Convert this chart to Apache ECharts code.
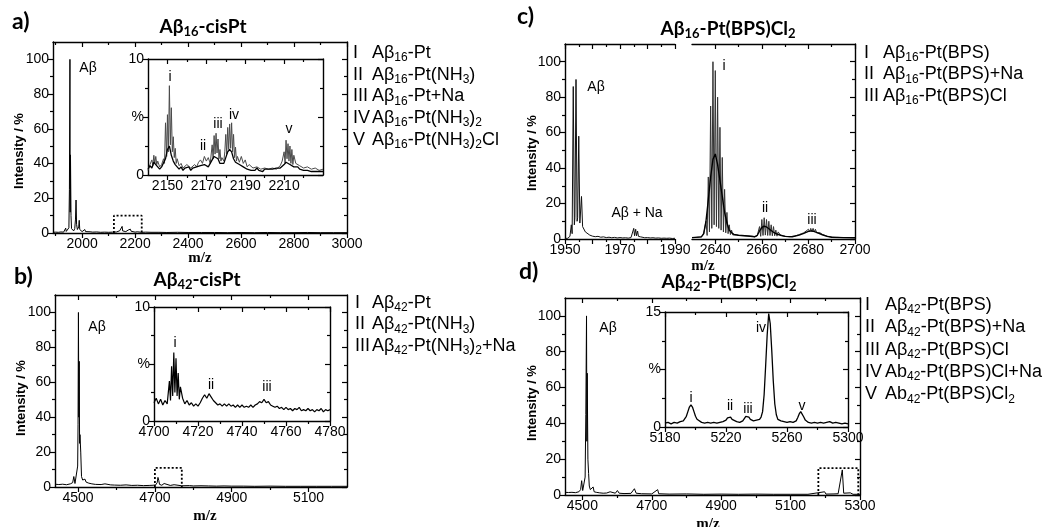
<!DOCTYPE html>
<html><head><meta charset="utf-8">
<script src="https://cdn.jsdelivr.net/npm/echarts@6/dist/echarts.min.js"></script>
<style>html,body{margin:0;padding:0;background:#fff}#c{width:1055px;height:527px}</style>
</head><body><div id="c"></div>
<script>
// ---------------- DATA ----------------
// Panel a: Aβ16-cisPt  (m/z, intensity %)
const aSpec = [[1890,0.4],[1900,0.5],[1910,0.4],[1920,0.6],[1930,0.5],[1936,0.8],[1938,2.8],[1940,0.9],[1945,1.2],[1950,3],[1952,25],[1954,100],[1955,12],[1956,45],[1958,10],[1960,2.5],[1964,1.5],[1968,1.2],[1972,2.5],[1975,8],[1977,19],[1979,5],[1982,2],[1985,1.8],[1987,3.5],[1989,7.3],[1991,2],[1995,1.0],[2000,0.8],[2005,1.0],[2010,2.0],[2013,0.8],[2020,0.6],[2030,0.7],[2040,0.5],[2055,0.6],[2070,0.4],[2085,0.5],[2100,0.4],[2115,0.5],[2130,0.6],[2142,1.3],[2146,0.7],[2149,2.0],[2151,3.8],[2153,1.2],[2158,0.6],[2165,0.8],[2170,0.7],[2174,1.7],[2177,0.9],[2182,2.2],[2185,1.0],[2190,0.7],[2200,0.5],[2208,0.7],[2211,1.6],[2215,0.6],[2225,0.4],[2240,0.5],[2260,0.4],[2290,0.4],[2320,0.3],[2360,0.4],[2400,0.3],[2450,0.3],[2500,0.3],[2550,0.2],[2600,0.3],[2650,0.2],[2700,0.3],[2750,0.2],[2800,0.2],[2850,0.3],[2900,0.2],[2950,0.2],[3000,0.2]];
const aInsetGray = [[2140,0.4],[2141,0.9],[2142,1.3],[2142.5,0.8],[2143,1.7],[2143.5,1.0],[2144,1.6],[2144.5,0.9],[2145,1.2],[2146,0.7],[2147,0.9],[2148,1.4],[2148.5,1.0],[2149,4.5],[2149.6,1.6],[2150,5.2],[2150.5,2.0],[2151,7.7],[2151.5,2.6],[2152,5.8],[2152.5,2.0],[2153,3.3],[2153.5,1.5],[2154,2.3],[2154.5,1.0],[2155,1.4],[2156,0.8],[2157,1.0],[2158,0.6],[2160,0.9],[2162,0.6],[2164,0.9],[2165,0.7],[2166,1.1],[2167,1.3],[2168,1.0],[2169,1.6],[2170,1.2],[2171,1.5],[2172,1.0],[2173,2.6],[2173.5,1.4],[2174,3.4],[2174.5,1.8],[2175,3.6],[2175.5,1.9],[2176,3.1],[2176.5,1.4],[2177,2.2],[2177.5,1.2],[2178,1.5],[2179,1.2],[2179.5,2.0],[2180,3.5],[2180.5,1.8],[2181,4.1],[2181.5,2.2],[2182,4.4],[2182.5,2.3],[2183,4.5],[2183.5,2.0],[2184,3.5],[2184.5,1.5],[2185,2.4],[2185.5,1.2],[2186,1.6],[2187,1.1],[2188,1.6],[2189,1.0],[2190,1.3],[2191,0.7],[2192,0.9],[2194,0.6],[2196,0.7],[2198,0.5],[2200,0.6],[2202,0.5],[2204,0.6],[2206,0.5],[2208,0.8],[2209,1.2],[2210,2.0],[2210.5,1.0],[2211,3.0],[2211.5,1.4],[2212,2.7],[2212.5,1.2],[2213,2.5],[2213.5,1.0],[2214,2.2],[2214.5,0.9],[2215,1.7],[2216,1.0],[2217,1.1],[2218,0.8],[2219,0.9],[2220,0.6],[2222,0.7],[2224,0.5],[2226,0.6],[2228,0.4],[2230,0.5]];
const aInsetBlack = [[2140,0.5],[2141,0.8],[2142,0.6],[2143,1.1],[2144,0.9],[2145,1.0],[2146,0.5],[2147,0.7],[2148,0.6],[2149,1.4],[2150,2.2],[2151,2.5],[2152,1.7],[2153,1.2],[2154,0.9],[2155,1.0],[2156,0.5],[2157,0.7],[2158,0.4],[2159,0.6],[2160,0.5],[2161,0.7],[2162,0.4],[2163,0.6],[2164,0.5],[2165,0.7],[2166,0.6],[2167,0.8],[2168,0.7],[2169,0.9],[2170,0.8],[2171,0.7],[2172,1.0],[2173,1.3],[2174,1.6],[2175,1.7],[2176,1.4],[2177,1.0],[2178,0.9],[2179,1.0],[2180,1.5],[2181,2.0],[2182,2.2],[2183,2.0],[2184,1.4],[2185,1.1],[2186,1.2],[2187,0.9],[2188,1.0],[2189,0.7],[2190,0.8],[2191,0.5],[2192,0.6],[2193,0.4],[2194,0.5],[2195,0.4],[2196,0.6],[2197,0.4],[2198,0.5],[2199,0.3],[2200,0.5],[2201,0.4],[2202,0.5],[2203,0.4],[2204,0.5],[2205,0.4],[2206,0.6],[2207,0.5],[2208,0.6],[2209,0.7],[2210,0.9],[2211,1.1],[2212,1.0],[2213,0.9],[2214,0.8],[2215,0.7],[2216,0.6],[2217,0.7],[2218,0.5],[2219,0.6],[2220,0.4],[2221,0.5],[2222,0.4],[2223,0.5],[2224,0.3],[2225,0.4],[2226,0.3],[2227,0.4],[2228,0.3],[2229,0.4],[2230,0.3]];
const aZoomBox = [2120, 2225, 0, 10];

// Panel b: Aβ42-cisPt
const bSpec = [[4440,1.6],[4450,1.4],[4460,1.6],[4470,1.3],[4480,1.8],[4486,2.5],[4489,6],[4492,2],[4496,2.5],[4499,12],[4500,36],[4501,100],[4502,40],[4503,72],[4504,25],[4505,30],[4507,20],[4509,6],[4512,4],[4515,3.5],[4518,4.5],[4521,2.8],[4525,3.5],[4528,2.2],[4532,2.6],[4536,1.8],[4540,2.0],[4545,1.5],[4550,1.7],[4560,1.4],[4570,1.8],[4575,1.3],[4585,1.2],[4590,2.0],[4595,1.1],[4610,1.0],[4625,1.2],[4640,0.9],[4655,1.0],[4670,0.8],[4685,0.9],[4695,1.0],[4702,1.2],[4706,2.5],[4708,5.5],[4710,3.8],[4712,1.5],[4718,1.0],[4724,2.0],[4728,1.0],[4740,0.9],[4750,1.3],[4755,0.8],[4770,0.7],[4790,0.8],[4800,0.6],[4820,0.7],[4840,0.6],[4860,0.5],[4880,0.6],[4900,0.5],[4930,0.5],[4960,0.4],[5000,0.5],[5040,0.4],[5080,0.4],[5120,0.4],[5160,0.4],[5200,0.4]];
const bInset = [[4700,1.6],[4701,2.0],[4702,1.5],[4703,1.9],[4704,1.4],[4705,1.8],[4706,1.5],[4707,3.5],[4707.5,1.8],[4708,4.8],[4708.5,2.2],[4709,6.0],[4709.5,2.5],[4710,5.5],[4710.5,2.2],[4711,4.2],[4711.5,1.9],[4712,3.0],[4713,2.0],[4714,1.5],[4715,1.8],[4716,1.4],[4717,1.6],[4718,1.3],[4719,1.5],[4720,1.3],[4721,1.6],[4722,2.0],[4723,2.3],[4724,2.0],[4725,2.4],[4726,2.1],[4727,1.8],[4728,1.6],[4729,1.4],[4730,1.5],[4731,1.3],[4732,1.5],[4733,1.3],[4734,1.5],[4735,1.3],[4736,1.4],[4737,1.2],[4738,1.4],[4739,1.2],[4740,1.4],[4741,1.2],[4742,1.3],[4743,1.2],[4744,1.4],[4745,1.2],[4746,1.4],[4747,1.5],[4748,1.7],[4749,1.6],[4750,1.9],[4751,1.6],[4752,1.7],[4753,1.4],[4754,1.3],[4755,1.2],[4756,1.3],[4757,1.1],[4758,1.2],[4759,1.0],[4760,1.2],[4761,1.0],[4762,1.1],[4763,0.9],[4764,1.1],[4765,1.0],[4766,1.2],[4767,0.9],[4768,1.0],[4769,0.9],[4770,1.1],[4771,0.9],[4772,1.0],[4773,0.8],[4774,1.0],[4775,0.9],[4776,1.1],[4777,0.8],[4778,1.0],[4779,0.9],[4780,1.0]];
const bZoomBox = [4700, 4770, 0, 11];

// Panel c: Aβ16-Pt(BPS)Cl2 (broken axis)
const cLeftSpec = [[1950,0.3],[1951,0.4],[1951.8,1.5],[1952.3,8],[1952.6,3],[1953,86],[1953.4,8],[1953.6,12],[1954,90],[1954.4,10],[1954.6,12],[1955,58],[1955.4,9],[1955.6,10],[1956,24],[1956.4,7],[1956.6,6],[1957,8],[1957.4,4],[1957.7,3.5],[1958,3],[1959,2.2],[1960,1.6],[1961,1.3],[1962,1.5],[1963,1.0],[1964,1.2],[1965,0.8],[1966,1.0],[1967,0.7],[1968,0.9],[1969,0.6],[1970,0.8],[1971,0.6],[1972,0.7],[1973,0.5],[1974,0.8],[1974.6,1.5],[1975,6],[1975.3,1.8],[1975.7,5.5],[1976,1.8],[1976.4,4.5],[1976.7,1.5],[1977,2.5],[1977.5,1.2],[1978,1.1],[1979,0.7],[1980,0.8],[1981,0.6],[1982,0.7],[1983,0.5],[1984,0.6],[1985,0.4],[1986,0.5],[1987,0.4],[1988,0.5],[1989,0.3],[1990,0.4]];
const cRightSpec = [[2630,0.8],[2632,0.9],[2634,1.2],[2635,2.5],[2635.5,1.5],[2636,10],[2636.5,2],[2637,35],[2637.5,4],[2638,75],[2638.5,6],[2639,100],[2639.5,8],[2640,95],[2640.5,7],[2641,80],[2641.5,6],[2642,63],[2642.5,5],[2643,46],[2643.5,4],[2644,28],[2644.5,3.5],[2645,15],[2645.5,3],[2646,8],[2646.5,2.5],[2647,5],[2647.5,2.3],[2648,3],[2649,2.2],[2650,2.0],[2652,1.9],[2654,1.7],[2656,1.5],[2657,1.2],[2658,1.8],[2658.5,1.2],[2659,7],[2659.5,1.5],[2660,11],[2660.5,2],[2661,12],[2661.5,2.2],[2662,11],[2662.5,2],[2663,10],[2663.5,2],[2664,8],[2664.5,1.8],[2665,7],[2665.5,1.8],[2666,5],[2666.5,1.6],[2667,4],[2668,2.2],[2669,1.8],[2670,1.5],[2672,1.3],[2674,1.6],[2676,2.5],[2677,3],[2678,3.5],[2679,4.5],[2679.5,3.5],[2680,5.5],[2680.5,4],[2681,6],[2681.5,4.2],[2682,6],[2682.5,4],[2683,5.5],[2683.5,3.5],[2684,4.5],[2685,3.5],[2686,2.5],[2688,1.6],[2690,1.1],[2692,0.9],[2695,0.8],[2698,0.8],[2700,0.7]];
const cRightEnv = [[2630,0.8],[2634,1.2],[2635,3],[2636,10],[2637,22],[2638,35],[2639,45],[2640,48],[2641,42],[2642,33],[2643,24],[2644,15],[2645,9],[2646,5],[2647,3.5],[2648,2.6],[2650,2.1],[2654,1.7],[2657,1.3],[2658,2],[2659,4.5],[2660,6.5],[2661,7.2],[2662,6.8],[2663,5.8],[2664,4.8],[2665,3.8],[2666,3],[2668,2.1],[2670,1.5],[2673,1.3],[2676,2.2],[2678,3.2],[2680,4.3],[2681,4.6],[2682,4.4],[2684,3.5],[2686,2.4],[2688,1.5],[2690,1.0],[2695,0.8],[2700,0.7]];

// Panel d: Aβ42-Pt(BPS)Cl2
const dSpec = [[4450,1.5],[4460,1.4],[4470,1.5],[4480,1.3],[4490,1.8],[4495,3],[4498,8],[4501,2.5],[4505,3],[4508,10],[4510,45],[4512,100],[4513,30],[4514,68],[4516,20],[4518,12],[4520,5],[4523,3],[4527,2.5],[4531,4.5],[4534,1.8],[4540,1.5],[4550,1.2],[4560,1.0],[4570,1.1],[4580,1.8],[4585,0.9],[4595,1.0],[4601,2.5],[4606,1.0],[4620,0.8],[4640,0.9],[4650,3.5],[4655,1.0],[4670,0.7],[4700,0.6],[4717,3],[4720,0.7],[4750,0.5],[4800,0.6],[4850,0.4],[4900,0.5],[4950,0.4],[5000,0.5],[5050,0.4],[5100,0.4],[5150,0.4],[5198,1.8],[5202,0.5],[5225,0.6],[5237,0.7],[5249,14],[5253,1.0],[5272,1.2],[5280,0.4],[5300,0.4]];
const dInset = [[5180,0.5],[5182,0.6],[5184,0.4],[5186,0.6],[5188,0.5],[5190,0.7],[5192,0.8],[5193,1.0],[5194,1.4],[5195,2.0],[5196,2.6],[5197,2.9],[5198,2.6],[5199,2.0],[5200,1.4],[5201,1.0],[5202,0.8],[5204,0.6],[5206,0.5],[5208,0.6],[5210,0.5],[5212,0.6],[5214,0.5],[5216,0.6],[5218,0.7],[5220,0.9],[5221,1.2],[5222,1.4],[5223,1.3],[5224,1.0],[5225,0.9],[5227,0.7],[5229,0.6],[5231,0.8],[5232,1.1],[5233,1.4],[5234,1.5],[5235,1.3],[5236,1.0],[5238,0.8],[5240,0.9],[5242,1.0],[5243,1.3],[5244,2.0],[5245,4.2],[5246,8.0],[5247,12.0],[5248,14.8],[5249,13.5],[5250,10.0],[5251,6.0],[5252,3.0],[5253,1.6],[5254,1.0],[5256,0.8],[5258,0.7],[5260,0.6],[5262,0.7],[5264,0.6],[5266,0.8],[5267,1.2],[5268,1.7],[5269,2.0],[5270,1.8],[5271,1.3],[5272,0.9],[5274,0.6],[5276,0.5],[5278,0.6],[5280,0.5],[5282,0.6],[5284,0.5],[5286,0.6],[5288,0.7],[5290,0.5],[5292,0.6],[5294,0.5],[5296,0.4],[5298,0.5],[5300,0.4]];
const dZoomBox = [5180, 5295, 0, 15];

// Tick labels
const mainYTicks = [0,20,40,60,80,100];
const mainYMinor = [10,30,50,70,90];
const aXTicks = [2000,2200,2400,2600,2800,3000];
const aXMinor = [1900,2100,2300,2500,2700,2900];
const aInXTicks = [2150,2170,2190,2210];
const aInXMinor = [2160,2180,2200,2220];
const insetYTicks = [0,5,10];
const insetYMinor = [2.5,7.5];
const bXTicks = [4500,4700,4900,5100];
const bXMinor = [4600,4800,5000];
const bInXTicks = [4700,4720,4740,4760,4780];
const bInXMinor = [4710,4730,4750,4770];
const cLXTicks = [1950,1970,1990];
const cLXMajor = [1950,1960,1970,1980,1990];
const cLXMinor = [1955,1965,1975,1985];
const cRXTicks = [2640,2660,2680,2700];
const cRXMinor = [2650,2670,2690];
const dXTicks = [4500,4700,4900,5100,5300];
const dXMinor = [4600,4800,5000,5200];
const dInXTicks = [5180,5220,5260,5300];
const dInXMinor = [5200,5240,5280];
const dInYTicks = [0,7.5,15];
const dInYMinor = [3.75,11.25];

// Texts
const numerals = ['I','II','III','IV','V'];
const legendA = ['Aβ_{16}-Pt','Aβ_{16}-Pt(NH_{3})','Aβ_{16}-Pt+Na','Aβ_{16}-Pt(NH_{3})_{2}','Aβ_{16}-Pt(NH_{3})_{2}Cl'];
const legendB = ['Aβ_{42}-Pt','Aβ_{42}-Pt(NH_{3})','Aβ_{42}-Pt(NH_{3})_{2}+Na'];
const legendC = ['Aβ_{16}-Pt(BPS)','Aβ_{16}-Pt(BPS)+Na','Aβ_{16}-Pt(BPS)Cl'];
const legendD = ['Aβ_{42}-Pt(BPS)','Aβ_{42}-Pt(BPS)+Na','Aβ_{42}-Pt(BPS)Cl','Ab_{42}-Pt(BPS)Cl+Na','Ab_{42}-Pt(BPS)Cl_{2}'];
const titles = ['Aβ_{16}-cisPt','Aβ_{42}-cisPt','Aβ_{16}-Pt(BPS)Cl_{2}','Aβ_{42}-Pt(BPS)Cl_{2}'];
const panelLetters = ['a)','b)','c)','d)'];
const annA = [['Aβ',88,68],['i',170,77],['ii',203,146],['iii',218,124],['iv',234,115],['v',289,129]];
const annB = [['Aβ',97,327],['i',175,343],['ii',211,385],['iii',267,387]];
const annC = [['Aβ',596,87],['Aβ + Na',637,213],['i',724,66],['ii',765,208],['iii',812,220]];
const annD = [['Aβ',608,328],['i',691,398],['ii',730,406],['iii',748,409],['iv',761,328],['v',802,406]];

// ---------------- BUILD ----------------
const FF = "'Liberation Sans', Arial, sans-serif";
const TF = "Lato, 'Open Sans', sans-serif";
const grids = [], xAxes = [], yAxes = [], series = [], graphic = [];
const NONE = {show:false};

function addPanel(p) {
  const gi = grids.length;
  grids.push({left:p.box[0], top:p.box[1], width:p.box[2], height:p.box[3]});
  const L = {show:true, onZero:false, lineStyle:{color:'#000', width:1.4}};
  const T = (vals, len, inside) => vals && vals.length ? {show:true, customValues:vals, length:len, inside:inside, lineStyle:{color:'#000', width:1.2}} : NONE;
  const lab = (vals, fmt) => ({show:true, customValues:vals, color:'#000', fontSize:14, fontFamily:FF, margin:4, formatter: fmt || (v => String(v))});
  const X = (pos, line, tick, label) => ({type:'value', gridIndex:gi, min:p.x[0], max:p.x[1], position:pos, axisLine:line, axisTick:tick, axisLabel:label, splitLine:NONE, minorTick:NONE});
  const Y = (pos, line, tick, label) => ({type:'value', gridIndex:gi, min:p.y[0], max:p.y[1], position:pos, axisLine:line, axisTick:tick, axisLabel:label, splitLine:NONE, minorTick:NONE});
  const xi = xAxes.length, yi = yAxes.length;
  xAxes.push(X('bottom', L, T(p.xMaj,5,false), lab(p.xLab)));
  xAxes.push(X('bottom', {show:false,onZero:false}, T(p.xMin,3,false), NONE));
  xAxes.push(X('top', L, T(p.xMaj,5,true), NONE));
  xAxes.push(X('top', {show:false,onZero:false}, T(p.xMin,3,true), NONE));
  const left = p.left !== false, right = p.right !== false;
  yAxes.push(Y('left', left ? L : {show:false,onZero:false}, left ? T(p.yMaj,5,false) : NONE, left ? lab(p.yLab, p.yFmt) : NONE));
  yAxes.push(Y('left', {show:false,onZero:false}, left ? T(p.yMin,3,false) : NONE, NONE));
  yAxes.push(Y('right', right ? L : {show:false,onZero:false}, right ? T(p.yMaj,5,true) : NONE, NONE));
  yAxes.push(Y('right', {show:false,onZero:false}, right ? T(p.yMin,3,true) : NONE, NONE));
  return {xi, yi};
}
function addLine(ax, data, color, width, type) {
  series.push({type:'line', xAxisIndex:ax.xi, yAxisIndex:ax.yi, data:data, showSymbol:false, symbol:'none',
    lineStyle:{color:color, width:width, type:type||'solid'}, animation:false, silent:true, clip:true, z:3});
}
function boxData(b) { return [[b[0],b[2]],[b[0],b[3]],[b[1],b[3]],[b[1],b[2]]]; }

function chem(s, size, family, weight) {
  const str = '{t|' + s.replace(/_\{([^}]*)\}/g, '}{s|$1}{t|') + '}';
  const ss = Math.round(size*0.66);
  return {text:str, rich:{
    t:{fontSize:size, fontFamily:family, fontWeight:weight, fill:'#000', color:'#000', lineHeight:size+4, verticalAlign:'middle'},
    s:{fontSize:ss, fontFamily:family, fontWeight:weight, fill:'#000', color:'#000', lineHeight:ss, verticalAlign:'bottom'}
  }};
}
function gText(x, y, text, size, family, weight, align, rot) {
  graphic.push({type:'text', x:x, y:y, rotation:rot||0, z:100, silent:true,
    style:{text:text, fontSize:size, fontFamily:family, fontWeight:weight||'normal', fill:'#000', textAlign:align||'center', textVerticalAlign:'middle', verticalAlign:'middle'}});
}
function gRich(x, y, s, size, family, weight, align) {
  const r = chem(s, size, family, weight);
  graphic.push({type:'text', x:x, y:y, z:100, silent:true,
    style:{text:r.text, rich:r.rich, fill:'#000', font: weight+' '+size+'px '+family, textAlign:align, textVerticalAlign:'middle', verticalAlign:'middle'}});
}

// Panel a
const pa = addPanel({box:[53,42,294,191], x:[1890,3000], y:[0,110], xMaj:aXTicks, xMin:aXMinor, xLab:aXTicks, yMaj:mainYTicks, yMin:mainYMinor, yLab:mainYTicks});
addLine(pa, aSpec, '#000', 1);
addLine(pa, boxData(aZoomBox), '#000', 1.8, [2,2]);
const pai = addPanel({box:[148,59,175,116], x:[2140,2230], y:[0,10], xMaj:aInXTicks, xMin:aInXMinor, xLab:aInXTicks, yMaj:insetYTicks, yMin:insetYMinor, yLab:insetYTicks, yFmt:v => v===5 ? '%' : String(v)});
addLine(pai, aInsetGray, '#4a4a4a', 1);
addLine(pai, aInsetBlack, '#000', 1.3);

// Panel b
const pb = addPanel({box:[55,295,292,192], x:[4440,5200], y:[0,110], xMaj:bXTicks, xMin:bXMinor, xLab:bXTicks, yMaj:mainYTicks, yMin:mainYMinor, yLab:mainYTicks});
addLine(pb, bSpec, '#000', 1);
addLine(pb, boxData(bZoomBox), '#000', 1.8, [2,2]);
const pbi = addPanel({box:[154,307,176,114], x:[4700,4780], y:[0,10], xMaj:bInXTicks, xMin:bInXMinor, xLab:bInXTicks, yMaj:insetYTicks, yMin:insetYMinor, yLab:insetYTicks, yFmt:v => v===5 ? '%' : String(v)});
addLine(pbi, bInset, '#000', 1.2);

// Panel c (broken axis)
const pcl = addPanel({box:[565,44,110,195], x:[1950,1990], y:[0,110], xMaj:cLXMajor, xMin:cLXMinor, xLab:cLXTicks, yMaj:mainYTicks, yMin:mainYMinor, yLab:mainYTicks, right:false});
addLine(pcl, cLeftSpec, '#111', 1);
const pcr = addPanel({box:[692,44,163,195], x:[2630,2700], y:[0,110], xMaj:cRXTicks, xMin:cRXMinor, xLab:cRXTicks, yMaj:mainYTicks, yMin:mainYMinor, yLab:mainYTicks, left:false});
addLine(pcr, cRightSpec, '#333', 1);
addLine(pcr, cRightEnv, '#000', 1.4);

// Panel d
const pd = addPanel({box:[565,298,295,197], x:[4450,5300], y:[0,110], xMaj:dXTicks, xMin:dXMinor, xLab:dXTicks, yMaj:mainYTicks, yMin:mainYMinor, yLab:mainYTicks});
addLine(pd, dSpec, '#000', 1);
addLine(pd, boxData(dZoomBox), '#000', 1.8, [2,2]);
const pdi = addPanel({box:[665,312,183,115], x:[5180,5300], y:[0,15], xMaj:dInXTicks, xMin:dInXMinor, xLab:dInXTicks, yMaj:dInYTicks, yMin:dInYMinor, yLab:dInYTicks, yFmt:v => v===7.5 ? '%' : String(v)});
addLine(pdi, dInset, '#000', 1.3);

// Texts
[[12,22],[14,277],[517,17],[519,272]].forEach((p,i) => gText(p[0], p[1], panelLetters[i], 23, TF, 'bold', 'left'));
[[203,27],[197,280],[728,29],[729,282]].forEach((p,i) => gRich(p[0], p[1], titles[i], 19, TF, 'bold', 'center'));
[[19,151],[21,398],[532,153],[532,403]].forEach(p => gText(p[0], p[1], 'Intensity / %', 13, FF, 'bold', 'center', Math.PI/2));
[[200,258],[205,516],[703,266],[708,524]].forEach(p => gText(p[0], p[1], 'm/z', 15, "'Liberation Serif', 'Times New Roman', serif", 'bold', 'center'));
function legend(items, nx, tx, y0, dy) {
  items.forEach((s,i) => {
    gText(nx, y0 + i*dy, numerals[i], 18, FF, 'normal', 'left');
    gRich(tx, y0 + i*dy, s, 18, FF, 'normal', 'left');
  });
}
legend(legendA, 353, 372, 53, 21.7);
legend(legendB, 355, 372, 303, 21.5);
legend(legendC, 864, 883, 53, 21.5);
legend(legendD, 865, 885, 305, 22.3);
[annA, annB, annC, annD].forEach(list => list.forEach(a => gText(a[1], a[2], a[0], 14, FF, 'normal', 'center')));

const chart = echarts.init(document.getElementById('c'), null, {renderer:'canvas'});
chart.setOption({animation:false, backgroundColor:'#fff', grid:grids, xAxis:xAxes, yAxis:yAxes, series:series, graphic:graphic});
</script>
</body></html>
